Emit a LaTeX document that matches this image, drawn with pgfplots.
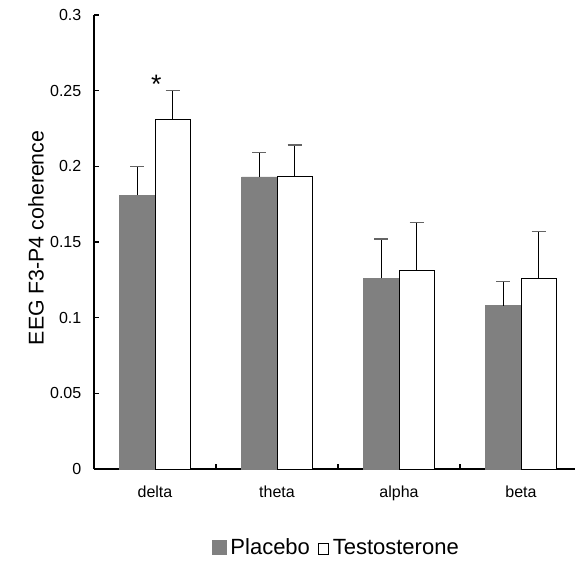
\documentclass[border=0pt]{standalone}
\usepackage{fontspec}
\setmainfont{Liberation Sans}
\usepackage{pgfplots}
\pgfplotsset{compat=1.18}
\usepackage{pgfplotstable}
\definecolor{barGray}{RGB}{128,128,128}
\definecolor{capGray}{RGB}{100,100,100}

\pgfplotstableread{
x y e
-0.145 0.181 0.019
0.855 0.193 0.016
1.855 0.126 0.026
2.855 0.108 0.016
}\placebo

\pgfplotstableread{
x y e
0.145 0.231 0.019
1.145 0.193 0.021
2.145 0.131 0.032
3.145 0.126 0.031
}\testost

\begin{document}
\begin{tikzpicture}
\useasboundingbox (0,0) rectangle (431.25pt,420.75pt);
\begin{axis}[
  at={(70.5pt,69pt)}, anchor=south west,
  scale only axis, width=366pt, height=340.5pt,
  xmin=-0.5, xmax=3.5, ymin=0, ymax=0.3,
  axis x line*=bottom, axis y line*=left,
  axis line style={-, line width=1.4pt},
  tick style={black, line width=1.2pt},
  tick align=inside, major tick length=3.5pt,
  ytick={0,0.05,0.1,0.15,0.2,0.25,0.3},
  yticklabels={0,0.05,0.1,0.15,0.2,0.25,0.3},
  xtick={0.5,1.5,2.5,3.5},
  xticklabels={,,,},
  extra x ticks={0,1,2,3},
  extra x tick labels={delta,theta,alpha,beta},
  extra x tick style={major tick length=0pt},
  ticklabel style={font=\fontsize{12}{14}\selectfont},
  yticklabel style={xshift=-6pt},
  xticklabel style={yshift=-9pt},
  ylabel={EEG F3-P4 coherence},
  ylabel style={at={(axis description cs:-0.119,0.509)}, anchor=center, font=\fontsize{16}{19}\selectfont},
  legend style={at={(axis description cs:0.497,-0.174)}, anchor=center, draw=none, fill=none,
    font=\fontsize{16.5}{19}\selectfont,
    /tikz/every odd column/.append style={column sep=1pt},
    /tikz/every even column/.append style={column sep=4pt}},
  legend columns=2,
  clip=false,
]
\addplot[ybar, bar width=0.29, bar shift=0, fill=barGray, draw=barGray, line width=0.6pt,
  legend image code/.code={\fill[barGray] (0pt,-4.5pt) rectangle (10.5pt,6pt);},
  error bars/.cd, y dir=plus, y explicit,
  error bar style={black, line width=0.9pt},
  error mark options={rotate=90, mark size=5.25pt, line width=1pt, draw=capGray},
  ] table[x=x, y=y, y error=e] {\placebo};
\addlegendentry{Placebo}
\addplot[ybar, bar width=0.29, bar shift=0, fill=white, draw=black, line width=0.75pt,
  legend image code/.code={\draw[black, line width=0.6pt, fill=white] (0pt,-4.5pt) rectangle (7.5pt,3.5pt);},
  error bars/.cd, y dir=plus, y explicit,
  error bar style={black, line width=0.9pt},
  error mark options={rotate=90, mark size=5.25pt, line width=1pt, draw=capGray},
  ] table[x=x, y=y, y error=e] {\testost};
\addlegendentry{Testosterone}
\node[font=\fontsize{20}{24}\selectfont, anchor=base] at (axis cs:0.01,0.248) {*};
\end{axis}
\end{tikzpicture}
\end{document}
